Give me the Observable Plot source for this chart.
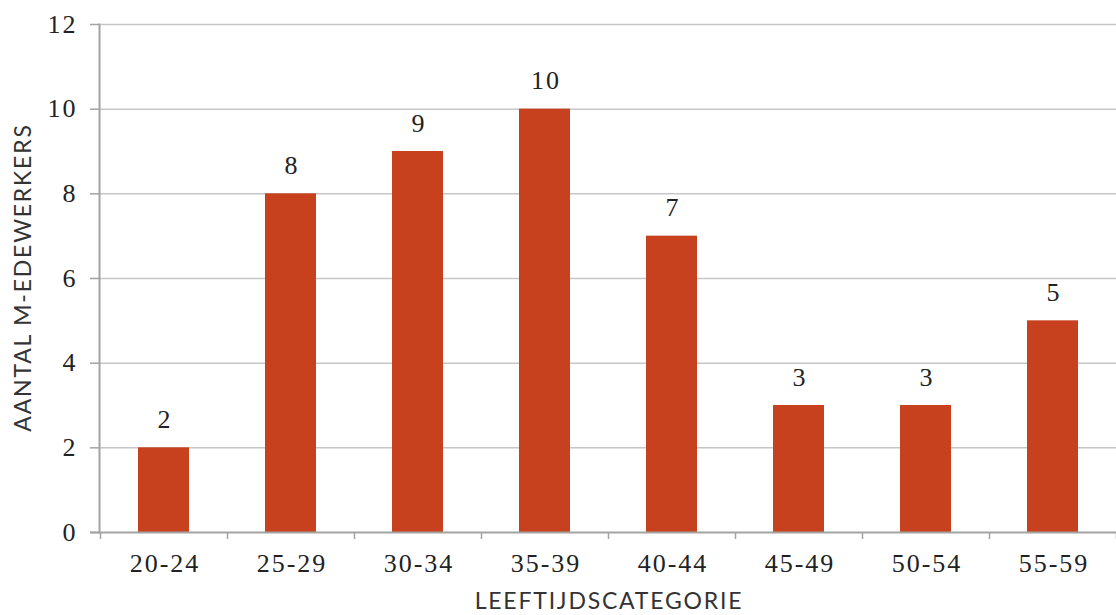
<!DOCTYPE html>
<html>
<head>
<meta charset="utf-8">
<script src="https://cdn.jsdelivr.net/npm/d3@7"></script>
<script src="https://cdn.jsdelivr.net/npm/@observablehq/plot@0.6"></script>
<style>
  html, body { margin: 0; padding: 0; background: #fff; }
  #chart { width: 1116px; height: 615px; }
  #chart svg g[font-family^="'Liberation Serif'"] text { letter-spacing: 2px; }
  #chart svg g[font-family^="Lato"] text { letter-spacing: 1.8px; }
</style>
</head>
<body>
<div id="chart"></div>
<script>
const categories = ["20-24", "25-29", "30-34", "35-39", "40-44", "45-49", "50-54", "55-59"];
const counts = [2, 8, 9, 10, 7, 3, 3, 5];
const yTicks = [0, 2, 4, 6, 8, 10, 12];
const gridTicks = [2, 4, 6, 8, 10, 12];
const xTitle = "LEEFTIJDSCATEGORIE";
const yTitle = "AANTAL M-EDEWERKERS";

const data = categories.map((c, i) => ({cat: c, n: counts[i]}));

const barColor = "#c8411f";
const gridColor = "#c6c6c6";
const axisColor = "#a3a3a3";
const textColor = "#222";
const serif = "'Liberation Serif', 'DejaVu Serif', serif";
const sans = "Lato, 'Open Sans', sans-serif";

const base = {
  width: 1116,
  height: 615,
  marginLeft: 99,
  marginRight: 0,
  marginTop: 24,
  marginBottom: 83,
  style: {fontFamily: serif, fontSize: "26px", color: textColor, background: "#fff", overflow: "visible"},
  x: {domain: categories, paddingInner: 0.6, paddingOuter: 0.3, label: null},
  y: {domain: [0, 12], label: null}
};

// First pass: obtain band step from the library's x scale
const probe = Plot.plot({...base, marks: [Plot.barY(data, {x: "cat", y: "n"})]});
const step = probe.scale("x").step;

// Category boundary tick marks (between bands)
const boundsLeft = categories.map(c => ({cat: c}));
const boundsRight = [{cat: categories[categories.length - 1]}];

const numStyle = {fontFamily: serif, fontSize: 26, fill: textColor};
const titleStyle = {fontFamily: sans, fontSize: 23, fill: "#333"};

const plot = Plot.plot({
  ...base,
  marks: [
    Plot.ruleY(gridTicks, {stroke: gridColor, strokeWidth: 1.5}),
    Plot.barY(data, {x: "cat", y: "n", fill: barColor}),
    Plot.frame({anchor: "left", stroke: axisColor, strokeWidth: 2}),
    Plot.ruleY([0], {stroke: axisColor, strokeWidth: 2, insetLeft: -9}),
    Plot.ruleX(boundsLeft, {x: "cat", y1: 0, y2: 0, dx: -step / 2, stroke: axisColor, strokeWidth: 1.5, insetBottom: -7}),
    Plot.ruleX(boundsRight, {x: "cat", y1: 0, y2: 0, dx: step / 2, stroke: axisColor, strokeWidth: 1.5, insetBottom: -7}),
    Plot.axisY(yTicks, {tickSize: 9, tickPadding: 13, stroke: axisColor, strokeWidth: 1.5, label: null, ...numStyle}),
    Plot.axisX({tickSize: 0, tickPadding: 21, label: null, dx: 1, ...numStyle}),
    Plot.text(data, {x: "cat", y: "n", text: d => String(d.n), dy: -28, dx: 1, ...numStyle}),
    Plot.text([xTitle], {frameAnchor: "bottom", dy: 76, dx: 1, ...titleStyle}),
    Plot.text([yTitle], {frameAnchor: "left", dx: -76, dy: -1, rotate: -90, textAnchor: "middle", ...titleStyle})
  ]
});
document.getElementById("chart").appendChild(plot);
</script>
</body>
</html>
